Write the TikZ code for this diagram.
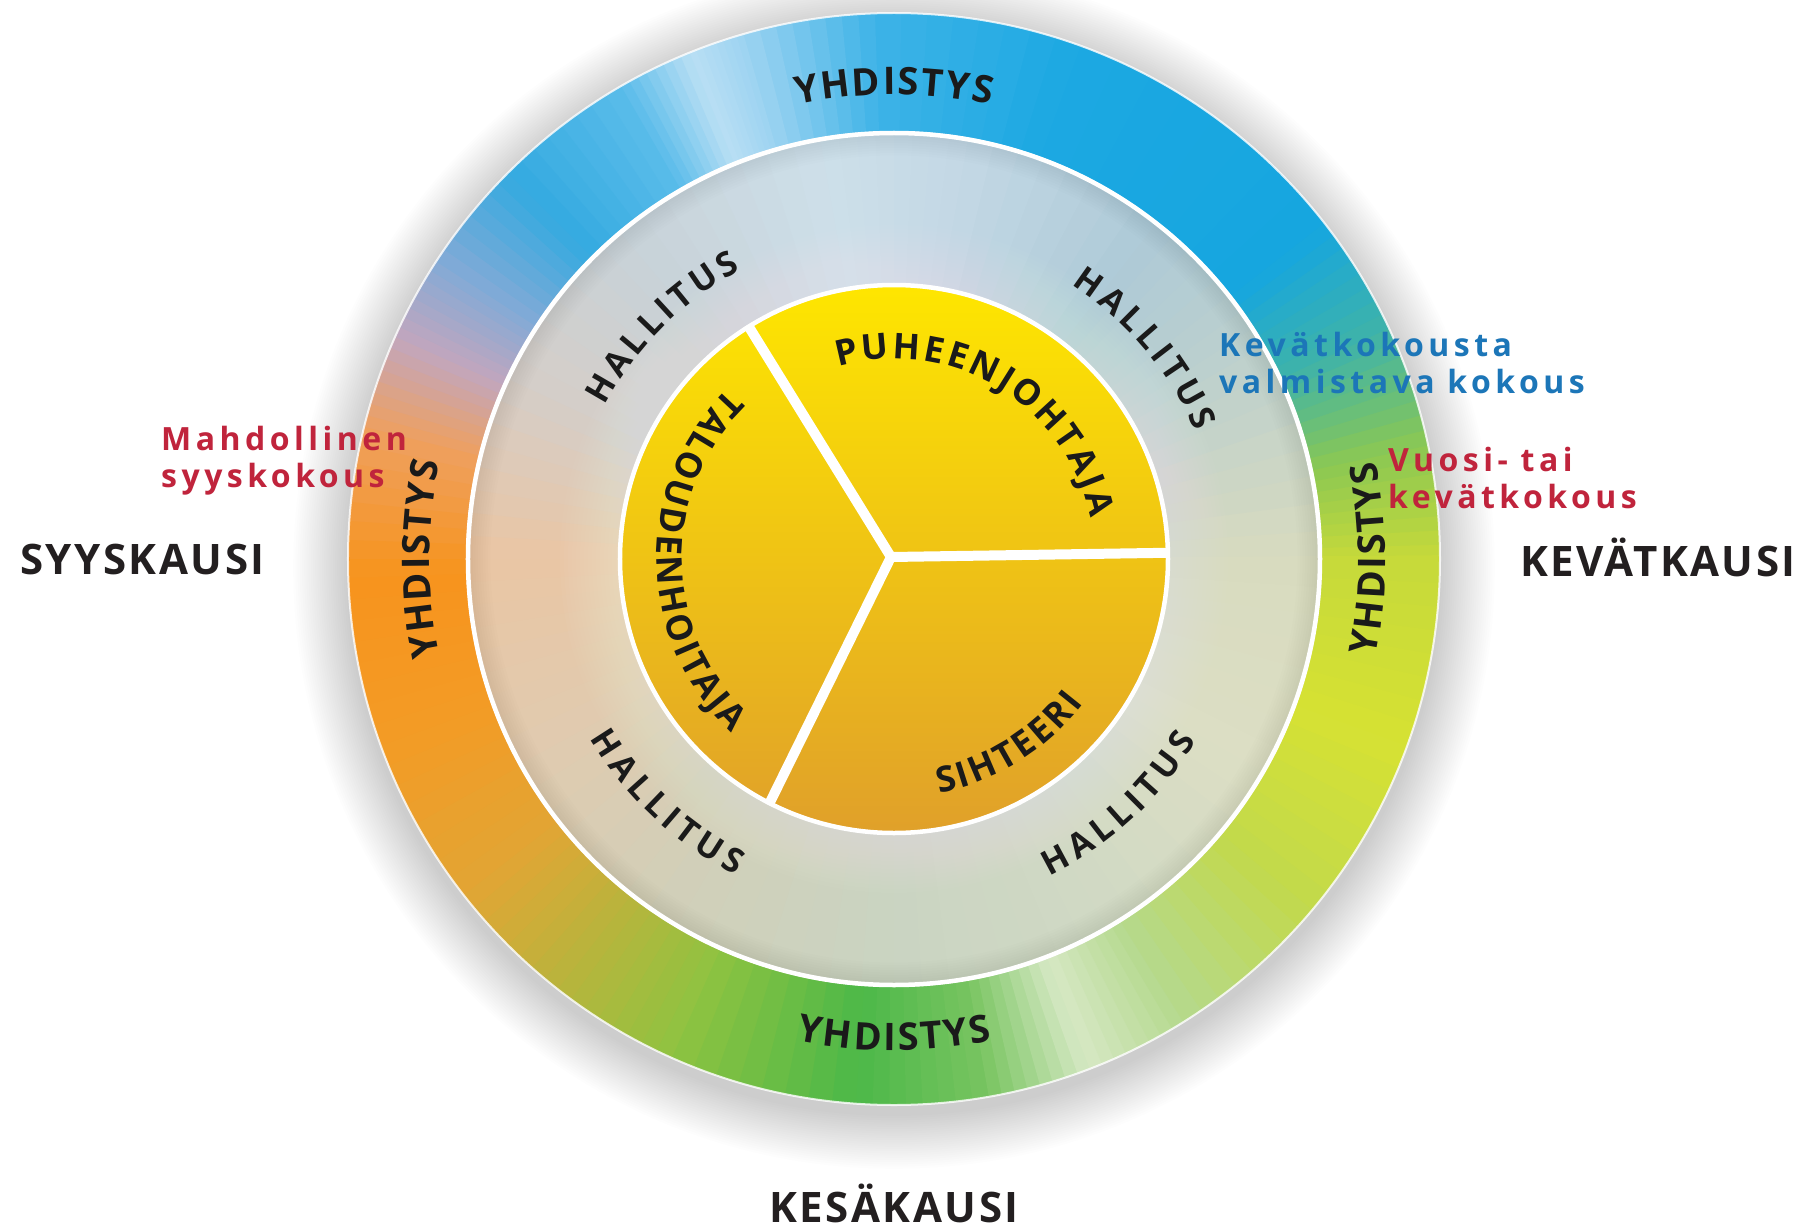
\documentclass[tikz,border=0pt]{standalone}
\usepackage{fontspec}
\setmainfont{Open Sans}
\usetikzlibrary{calc}

% outer ring colour stops
\definecolor{o000}{HTML}{C6D93A}
\definecolor{o012}{HTML}{8CC852}
\definecolor{o025}{HTML}{3FB3A8}
\definecolor{o038}{HTML}{16A6DF}
\definecolor{o070}{HTML}{1CA8E2}
\definecolor{o092}{HTML}{3DB3E7}
\definecolor{o106}{HTML}{9CD3F1}
\definecolor{o112}{HTML}{B9DFF4}
\definecolor{o120}{HTML}{5ABCEA}
\definecolor{o135}{HTML}{34AAE0}
\definecolor{o147}{HTML}{84AAD6}
\definecolor{o156}{HTML}{C2A6BE}
\definecolor{o166}{HTML}{EEA060}
\definecolor{o182}{HTML}{F7941D}
\definecolor{o200}{HTML}{F39B25}
\definecolor{o218}{HTML}{E2A534}
\definecolor{o232}{HTML}{B9B43C}
\definecolor{o246}{HTML}{8FC341}
\definecolor{o266}{HTML}{4CB848}
\definecolor{o280}{HTML}{78C460}
\definecolor{o291}{HTML}{D6E8C4}
\definecolor{o302}{HTML}{B5D98E}
\definecolor{o320}{HTML}{C2D94C}
\definecolor{o340}{HTML}{D6E233}
% middle ring colour stops
\definecolor{m000}{HTML}{D8DBBF}
\definecolor{m030}{HTML}{BDD0CD}
\definecolor{m052}{HTML}{AECAD7}
\definecolor{m080}{HTML}{C3D8E5}
\definecolor{m100}{HTML}{CDDFE9}
\definecolor{m130}{HTML}{C8D2D8}
\definecolor{m155}{HTML}{D5CEC8}
\definecolor{m180}{HTML}{EAC6A4}
\definecolor{m205}{HTML}{E2CAAE}
\definecolor{m235}{HTML}{D2CFB8}
\definecolor{m270}{HTML}{CAD4C2}
\definecolor{m300}{HTML}{D0D9C4}
\definecolor{m330}{HTML}{DCDEC4}
% others
\definecolor{iy1}{HTML}{FEE600}
\definecolor{iy2}{HTML}{F2C416}
\definecolor{iy3}{HTML}{E0A02A}
\definecolor{ringtext}{HTML}{1A1A1A}
\definecolor{seasontext}{HTML}{231F20}
\definecolor{redc}{HTML}{C0243C}
\definecolor{bluec}{HTML}{1C76B8}

\newlength\arcw
\newcommand\MeasureLetter[1]{%
  \pgfinterruptpicture
    \settowidth{\arcw}{\arcfont #1}%
    \global\arcw=\arcw
  \endpgfinterruptpicture
}
% #1 name prefix, #2 centre radius of letters, #3 cap height, #4 centre angle,
% #5 angular span, #6 direction (1 = clockwise, tops out; -1 = ccw, tops in), #7 letters
\newcommand\ArcText[7]{%
  \gdef\arcSum{0}\gdef\arcN{0}%
  \foreach \ch in {#7}{%
    \MeasureLetter{\ch}%
    \pgfmathparse{\arcSum+\arcw}\xdef\arcSum{\pgfmathresult}%
    \pgfmathparse{int(\arcN+1)}\xdef\arcN{\pgfmathresult}%
  }%
  \pgfmathparse{((#5)*pi/180*(#2)-\arcSum)/(\arcN-1)}\xdef\arcTrack{\pgfmathresult}%
  \pgfmathparse{(#4)+(#6)*(#5)/2}\xdef\arcPos{\pgfmathresult}%
  \pgfmathparse{(#2)-(#6)*(#3)/2}\xdef\arcR{\pgfmathresult}%
  \foreach \ch [count=\ci] in {#7}{%
    \MeasureLetter{\ch}%
    \pgfmathsetmacro\arcAng{\arcPos-(#6)*(\arcw/2)/(#2)*180/pi}%
    \pgfmathsetmacro\arcRot{\arcAng-(#6)*90}%
    \node[arcletter, rotate=\arcRot] (#1\ci) at (\arcAng:\arcR pt) {\ch};%
    \pgfmathparse{\arcPos-(#6)*(\arcw+\arcTrack)/(#2)*180/pi}\xdef\arcPos{\pgfmathresult}%
  }%
}

\begin{document}
\begin{tikzpicture}[x=1pt,y=1pt,
  arcletter/.style={anchor=base, inner sep=0pt, outer sep=0pt, text=ringtext, font=\arcfont},
  season/.style={inner sep=0pt, text=seasontext, font=\fontsize{42}{42}\selectfont\bfseries\addfontfeature{LetterSpace=6}},
  note/.style={anchor=base west, inner sep=0pt, font=\fontsize{32}{32}\selectfont\bfseries\addfontfeature{LetterSpace=14}},
  sepline/.style={white, line width=10pt},
]
\fill[white] (-894,-670) rectangle (915,559);
\useasboundingbox (-894,-670) rectangle (915,559);

% soft shadow
\foreach \i in {0,...,24}{%
  \pgfmathsetmacro\rr{548+2.2*\i}
  \fill[black, opacity=0.006] (0,-9) circle (\rr pt);
}

% outer ring (YHDISTYS)
\foreach \sa/\ea/\ca/\cb in {0/12/o000/o012, 12/25/o012/o025, 25/38/o025/o038, 38/70/o038/o070,
    70/92/o070/o092, 92/106/o092/o106, 106/112/o106/o112, 112/120/o112/o120, 120/135/o120/o135,
    135/147/o135/o147, 147/156/o147/o156, 156/166/o156/o166, 166/182/o166/o182, 182/200/o182/o200,
    200/218/o200/o218, 218/232/o218/o232, 232/246/o232/o246, 246/266/o246/o266, 266/280/o266/o280,
    280/291/o280/o291, 291/302/o291/o302, 302/320/o302/o320, 320/340/o320/o340, 340/360/o340/o000}{%
  \foreach \k in {0,...,7}{%
    \pgfmathsetmacro\aa{\sa+\k*(\ea-\sa)/8}
    \pgfmathsetmacro\ab{\sa+(\k+1)*(\ea-\sa)/8+0.4}
    \pgfmathtruncatemacro\pp{100-(\k+0.5)*100/8}
    \path[fill={\ca!\pp!\cb}] (\aa:422pt) arc[start angle=\aa, end angle=\ab, radius=422pt]
      -- (\ab:546pt) arc[start angle=\ab, end angle=\aa, radius=546pt] -- cycle;
  }
}
\draw[white, opacity=0.8, line width=2pt] (0,0) circle (546pt);

% middle ring (HALLITUS)
\foreach \sa/\ea/\ca/\cb in {0/30/m000/m030, 30/52/m030/m052, 52/80/m052/m080, 80/100/m080/m100,
    100/130/m100/m130, 130/155/m130/m155, 155/180/m155/m180, 180/205/m180/m205, 205/235/m205/m235,
    235/270/m235/m270, 270/300/m270/m300, 300/330/m300/m330, 330/360/m330/m000}{%
  \foreach \k in {0,...,7}{%
    \pgfmathsetmacro\aa{\sa+\k*(\ea-\sa)/8}
    \pgfmathsetmacro\ab{\sa+(\k+1)*(\ea-\sa)/8+0.4}
    \pgfmathtruncatemacro\pp{100-(\k+0.5)*100/8}
    \path[fill={\ca!\pp!\cb}] (\aa:268pt) arc[start angle=\aa, end angle=\ab, radius=268pt]
      -- (\ab:428pt) arc[start angle=\ab, end angle=\aa, radius=428pt] -- cycle;
  }
}
\foreach \i in {1,...,15}{%
  \pgfmathsetmacro\rr{274+4*\i}
  \fill[white, opacity=0.025] (0,0) circle (\rr pt);
}
% slight darkening toward the outer edge of the middle ring
\foreach \i in {0,...,9}{%
  \pgfmathsetmacro\rr{426-2.5*\i}
  \fill[black, opacity=0.006, even odd rule] (0,0) circle (426pt) circle (\rr pt);
}
\draw[white, line width=4.5pt] (0,0) circle (426pt);

% inner disc
\shade[top color=iy1, middle color=iy2, bottom color=iy3] (0,0) circle (274pt);
\draw[white, line width=4.5pt] (0,0) circle (274pt);
\coordinate (ctr) at (-3,2);
\coordinate (s1) at (1.3:276pt);
\coordinate (s2) at (122:276pt);
\coordinate (s3) at (243:276pt);
\draw[sepline] (ctr) -- (s1);
\draw[sepline] (ctr) -- (s2);
\draw[sepline] (ctr) -- (s3);
\fill[white] (ctr) circle (5pt);

% ring labels
\def\arcfont{\fontsize{38}{38}\selectfont\bfseries}
\ArcText{yt}{478}{27}{90}{24}{1}{Y,H,D,I,S,T,Y,S}
\ArcText{yl}{478}{27}{180}{24}{1}{Y,H,D,I,S,T,Y,S}
\ArcText{yr}{478}{27}{0}{23}{-1}{Y,H,D,I,S,T,Y,S}
\ArcText{yb}{478}{27}{270}{23}{-1}{Y,H,D,I,S,T,Y,S}

\def\arcfont{\fontsize{34}{34}\selectfont\bfseries}
\ArcText{ha}{339}{24}{135}{34}{1}{H,A,L,L,I,T,U,S}
\ArcText{hb}{339}{24}{40}{34}{1}{H,A,L,L,I,T,U,S}
\ArcText{hc}{341}{24}{227}{33}{-1}{H,A,L,L,I,T,U,S}
\ArcText{hd}{341}{24}{312.5}{33}{-1}{H,A,L,L,I,T,U,S}

\def\arcfont{\fontsize{35.5}{35.5}\selectfont\bfseries}
\ArcText{pj}{213}{25}{59}{94}{1}{P,U,H,E,E,N,J,O,H,T,A,J,A}
\ArcText{th}{225}{25}{180.7}{93}{-1}{T,A,L,O,U,D,E,N,H,O,I,T,A,J,A}
\ArcText{si}{226}{25}{301.8}{42}{-1}{S,I,H,T,E,E,R,I}

% season labels
\node[season, anchor=base west] (syys) at (-874,-15) {SYYSKAUSI};
\node[season, anchor=base east] (kevat) at (902,-17) {KEVÄTKAUSI};
\node[season, anchor=base] (kesa) at (0,-663) {KESÄKAUSI};

% meeting notes
\node[note, text=redc] (m1) at (-733,109) {Mahdollinen};
\node[note, text=redc] (m2) at (-733,72) {syyskokous};
\node[note, text=bluec] (k1) at (325,203) {Kevätkokousta};
\node[note, text=bluec] (k2) at (325,166) {valmistava kokous};
\node[note, text=redc] (v1) at (494,88) {Vuosi- tai};
\node[note, text=redc] (v2) at (494,51) {kevätkokous};
\end{tikzpicture}
\end{document}
